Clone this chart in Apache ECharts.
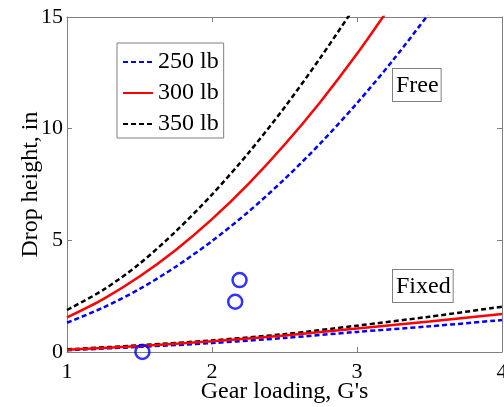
<!DOCTYPE html>
<html>
<head>
<meta charset="utf-8">
<script src="https://cdn.jsdelivr.net/npm/echarts@6/dist/echarts.min.js"></script>
<style>
  html, body { margin: 0; padding: 0; background: #fff; }
  #chart { width: 504px; height: 407px; }
</style>
</head>
<body>
<div id="chart"></div>
<script>
// gear loading (G's) for the "free" curves
const freeLoad = [1, 1.25, 1.5, 1.75, 2, 2.25, 2.5, 2.75, 3, 3.25, 3.5]
const free250 = [1.31, 1.99, 2.82, 3.82, 4.97, 6.27, 7.74, 9.36, 11.14, 13.08, 15.18]
const free300 = [1.55, 2.37, 3.38, 4.57, 5.95, 7.52, 9.28, 11.22, 13.35, 15.67]
const free350 = [1.88, 2.78, 3.95, 5.40, 7.05, 8.90, 10.95, 13.20, 15.60]

// gear loading for the "fixed" curves
const fixedLoad = [1, 1.5, 2, 2.5, 3, 3.5, 4]
const fixed250 = [0.08, 0.23, 0.40, 0.63, 0.90, 1.15, 1.43]
const fixed300 = [0.10, 0.27, 0.48, 0.74, 1.05, 1.37, 1.70]
const fixed350 = [0.12, 0.30, 0.52, 0.80, 1.18, 1.58, 2.03]

// test points
const testLoad = [1.52, 2.16, 2.19]
const testDrop = [0.0, 2.25, 3.22]

const weights = ['250 lb', '300 lb', '350 lb']
const xTicks = [1, 2, 3, 4]
const yTicks = [0, 5, 10, 15]

const font = 'Liberation Serif'
const axisGray = '#808080'

const pairs = (xs, ys) => ys.map((y, i) => [xs[i], y])

const lineStyles = [
  { color: '#0000ff', width: 2.5, type: [5, 3] },
  { color: '#ff0000', width: 2.5, type: 'solid' },
  { color: '#000000', width: 2.5, type: [5, 3] }
]

const freeSets = [free250, free300, free350]
const fixedSets = [fixed250, fixed300, fixed350]

const series = []
weights.forEach((name, i) => {
  series.push({
    name,
    type: 'line',
    smooth: 0.3,
    symbol: 'none',
    clip: true,
    data: pairs(freeLoad, freeSets[i]),
    lineStyle: lineStyles[i],
    itemStyle: { color: lineStyles[i].color },
    z: 3 - i
  })
})
weights.forEach((name, i) => {
  series.push({
    name,
    type: 'line',
    smooth: 0.3,
    symbol: 'none',
    clip: true,
    data: pairs(fixedLoad, fixedSets[i]),
    lineStyle: lineStyles[i],
    itemStyle: { color: lineStyles[i].color },
    z: i === 1 ? 4 : 3
  })
})
series.push({
  name: 'Test',
  type: 'scatter',
  symbol: 'circle',
  symbolSize: 14,
  clip: false,
  data: pairs(testLoad, testDrop),
  itemStyle: { color: 'rgba(0,0,0,0)', borderColor: '#0000ff', borderWidth: 2.5 },
  z: 5
})

const baseX = {
  type: 'value',
  min: xTicks[0],
  max: xTicks[xTicks.length - 1],
  interval: 1,
  axisLine: { show: true, onZero: false, lineStyle: { color: axisGray, width: 1 } },
  axisTick: { show: true, inside: true, length: 5, lineStyle: { color: axisGray } },
  splitLine: { show: false }
}
const baseY = {
  type: 'value',
  min: yTicks[0],
  max: yTicks[yTicks.length - 1],
  interval: 5,
  axisLine: { show: true, onZero: false, lineStyle: { color: axisGray, width: 1 } },
  axisTick: { show: true, inside: true, length: 5, lineStyle: { color: axisGray } },
  splitLine: { show: false }
}

const boxText = (text, top) => ({
  type: 'text',
  left: 392,
  top,
  z: 10,
  style: {
    text,
    fontFamily: font,
    fontSize: 24,
    fill: '#000',
    backgroundColor: '#fff',
    borderColor: axisGray,
    borderWidth: 1,
    padding: [5, 2, 3, 3]
  }
})

const chart = echarts.init(document.getElementById('chart'))
chart.setOption({
  animation: false,
  backgroundColor: '#fff',
  textStyle: { fontFamily: font },
  grid: { left: 67, right: 2, top: 17, bottom: 55, outerBoundsMode: 'none', containLabel: false },
  legend: {
    data: weights,
    orient: 'vertical',
    left: 117,
    top: 43,
    itemWidth: 30,
    itemHeight: 14,
    itemGap: 7,
    padding: [7, 5, 2, 5],
    borderColor: axisGray,
    borderWidth: 1,
    backgroundColor: '#fff',
    selectedMode: false,
    itemStyle: { opacity: 0 },
    textStyle: { fontFamily: font, fontSize: 24, color: '#000', lineHeight: 24 }
  },
  xAxis: [
    {
      ...baseX,
      position: 'bottom',
      name: "Gear loading, G's",
      nameLocation: 'middle',
      nameGap: 28,
      nameMoveOverlap: false,
      nameTextStyle: { fontFamily: font, fontSize: 24, color: '#000' },
      axisLabel: { fontFamily: font, fontSize: 22, color: '#000', margin: 9 }
    },
    { ...baseX, position: 'top', axisLabel: { show: false } }
  ],
  yAxis: [
    {
      ...baseY,
      position: 'left',
      name: 'Drop height, in',
      nameLocation: 'middle',
      nameGap: 24,
      nameMoveOverlap: false,
      nameTextStyle: { fontFamily: font, fontSize: 24, color: '#000' },
      axisLabel: { fontFamily: font, fontSize: 22, color: '#000', margin: 4 }
    },
    { ...baseY, position: 'right', axisLabel: { show: false } }
  ],
  graphic: [boxText('Free', 68), boxText('Fixed', 269)],
  series
})
</script>
</body>
</html>
